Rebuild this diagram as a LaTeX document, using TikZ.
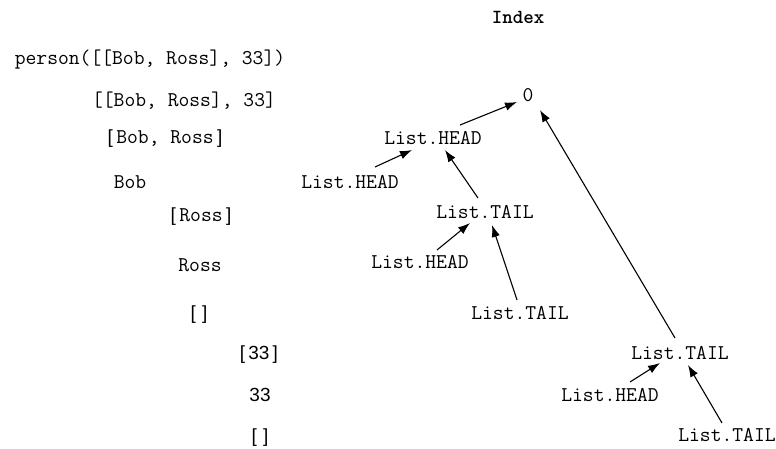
\documentclass[tikz,border=0pt]{standalone}
\usepackage{fontspec}
\setsansfont{Liberation Sans}
\usetikzlibrary{arrows.meta,calc}
\begin{document}
\begin{tikzpicture}[x=1pt,y=-1pt,
  lbl/.style={inner sep=0pt,font=\fontsize{21}{23}\ttfamily},
  slbl/.style={inner sep=0pt,font=\fontsize{19}{21}\sffamily},
  ptr/.style={line width=1.1pt,-{Latex[length=12pt,width=8.5pt]}}]
\useasboundingbox (0,0) rectangle (776,448);
\newcommand{\lb}{{\sffamily\fontsize{19}{21}\selectfont[}\,}
\newcommand{\rb}{\,{\sffamily\fontsize{19}{21}\selectfont]}}
% the term and its sub-terms
\node[lbl] (t0) at (150,60) {person([[Bob, Ross], 33])};
\node[lbl] (t1) at (184,101) {[[Bob, Ross], 33]};
\node[lbl] (t2) at (165,139) {\lb Bob, Ross\rb};
\node[lbl] (t3) at (130,182) {Bob};
\node[lbl] (t4) at (201,217) {\lb Ross\rb};
\node[lbl] (t5) at (200,265) {Ross};
\node[slbl] (t6) at (199,315) {[\,\,]};
\node[slbl] (t7) at (259,355) {[\,33\,]};
\node[slbl] (t8) at (260,395) {33};
\node[slbl] (t9) at (260,438) {[\,\,]};
% index column
\node[lbl,font=\fontsize{20}{22}\ttfamily\bfseries] (idx) at (518,17) {Index};
\node[lbl] (zero) at (528,95) {0};
\node[lbl] (th) at (433,138) {List.HEAD};
\node[lbl] (lh) at (350,182) {List.HEAD};
\node[lbl] (mt) at (485,212) {List.TAIL};
\node[lbl] (uh) at (420,262) {List.HEAD};
\node[lbl] (lt) at (520,313) {List.TAIL};
\node[lbl] (rt) at (680,353) {List.TAIL};
\node[lbl] (rh) at (610,395) {List.HEAD};
\node[lbl] (bt) at (727,435) {List.TAIL};
% pointers
\draw[ptr] ($(th)+(27,-13)$) -- ($(zero)+(-11,7)$);
\draw[ptr] ($(lh)+(25,-15)$) -- ($(th)+(-21,12)$);
\draw[ptr] ($(mt)+(-7,-14)$) -- ($(th)+(12,12)$);
\draw[ptr] ($(uh)+(17,-12)$) -- ($(mt)+(-15,11)$);
\draw[ptr] ($(lt)+(-3,-13)$) -- ($(mt)+(7,13)$);
\draw[ptr] ($(rt)+(-5,-15)$) -- ($(zero)+(12,15)$);
\draw[ptr] ($(rh)+(20,-13)$) -- ($(rt)+(-20,10)$);
\draw[ptr] ($(bt)+(-5,-12)$) -- ($(rt)+(8,12)$);
\end{tikzpicture}
\end{document}
